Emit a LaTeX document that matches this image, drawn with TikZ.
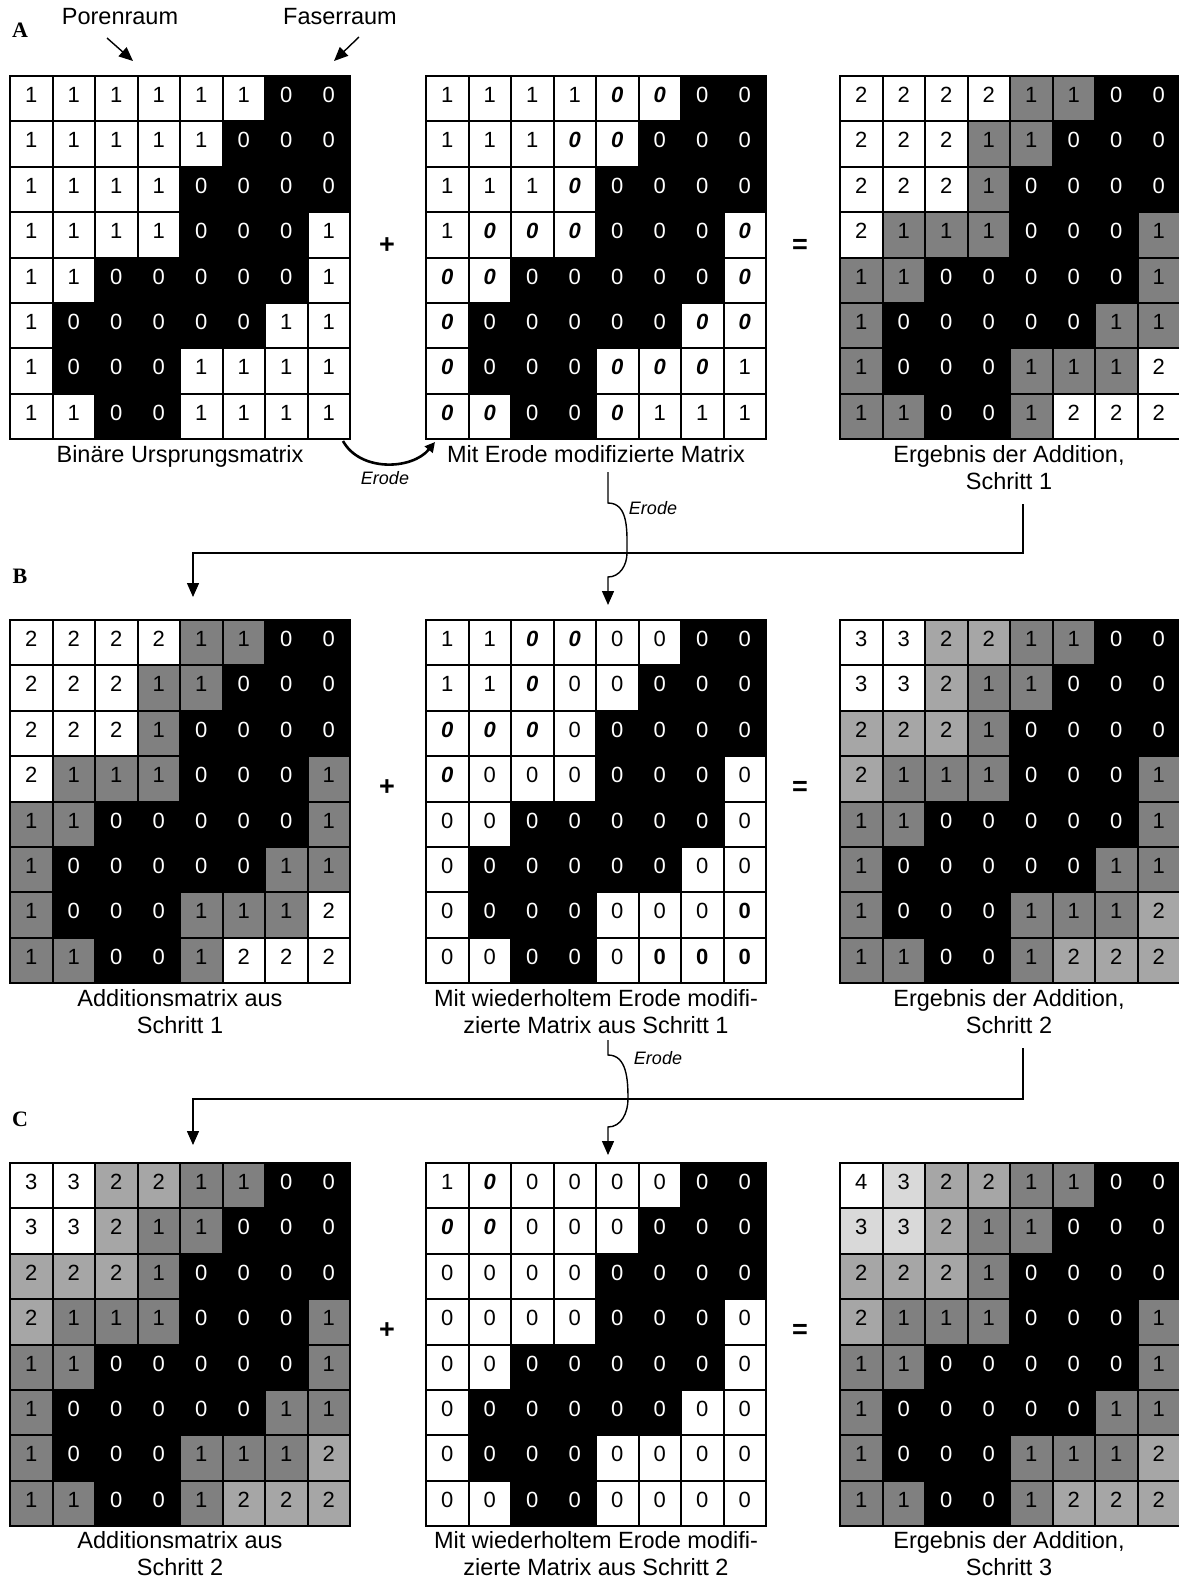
\documentclass[tikz,border=0pt]{standalone}
\usepackage{fontspec}
\setmainfont{Liberation Sans}
\newfontfamily\serifbold{Liberation Serif}
\usetikzlibrary{arrows.meta}
\definecolor{cW}{RGB}{255,255,255}
\definecolor{cK}{RGB}{0,0,0}
\definecolor{cA}{RGB}{128,128,128}
\definecolor{cB}{RGB}{166,166,166}
\definecolor{cC}{RGB}{217,217,217}
\colorlet{tW}{black}
\colorlet{tK}{white}
\colorlet{tA}{black}
\colorlet{tB}{black}
\colorlet{tC}{black}
\def\cellparse#1#2#3\relax{\def\cellfill{c#1}\def\celltext{t#1}\def\cellval{#2}\def\cellsty{#3}}
\def\styn{}
\def\styi{\bfseries\itshape}
\def\styb{\bfseries}
\tikzset{
  digit/.style={font=\fontsize{22}{24}\selectfont, inner sep=0pt},
  lbl/.style={font=\fontsize{23.5}{26}\selectfont, inner sep=0pt, anchor=base},
  erodelbl/.style={font=\fontsize{18}{20}\selectfont\itshape, inner sep=0pt},
  oplbl/.style={font=\fontsize{27}{29}\selectfont\bfseries, inner sep=0pt},
  panellbl/.style={font=\fontsize{22}{24}\selectfont\serifbold\bfseries, inner sep=0pt, anchor=base},
  conn/.style={line width=1.4pt},
  arrtip/.style={-{Triangle[length=14pt,width=12pt]}},
}
\newcommand\DrawMatrix[4]{%
  \foreach \row [count=\i] in #4 {
    \foreach \c [count=\j] in \row {
      \expandafter\cellparse\c\relax
      \path[fill=\cellfill, draw=black, line width=2pt] ({#2+(\j-1)*42.5},{#3+(\i-1)*45.375}) rectangle +(42.5,45.375);
      \node[digit, text=\celltext, anchor=base] (#1-\i-\j) at ({#2+(\j-0.5)*42.5},{#3+(\i-1)*45.375+26.5}) {\csname sty\cellsty\endcsname\cellval};
    }
  }
  \draw[line width=2.4pt] (#2,#3) rectangle +(340,363);
}
\def\matAone{%
{W1n,W1n,W1n,W1n,W1n,W1n,K0n,K0n},%
{W1n,W1n,W1n,W1n,W1n,K0n,K0n,K0n},%
{W1n,W1n,W1n,W1n,K0n,K0n,K0n,K0n},%
{W1n,W1n,W1n,W1n,K0n,K0n,K0n,W1n},%
{W1n,W1n,K0n,K0n,K0n,K0n,K0n,W1n},%
{W1n,K0n,K0n,K0n,K0n,K0n,W1n,W1n},%
{W1n,K0n,K0n,K0n,W1n,W1n,W1n,W1n},%
{W1n,W1n,K0n,K0n,W1n,W1n,W1n,W1n}}
\def\matAtwo{%
{W1n,W1n,W1n,W1n,W0i,W0i,K0n,K0n},%
{W1n,W1n,W1n,W0i,W0i,K0n,K0n,K0n},%
{W1n,W1n,W1n,W0i,K0n,K0n,K0n,K0n},%
{W1n,W0i,W0i,W0i,K0n,K0n,K0n,W0i},%
{W0i,W0i,K0n,K0n,K0n,K0n,K0n,W0i},%
{W0i,K0n,K0n,K0n,K0n,K0n,W0i,W0i},%
{W0i,K0n,K0n,K0n,W0i,W0i,W0i,W1n},%
{W0i,W0i,K0n,K0n,W0i,W1n,W1n,W1n}}
\def\matAthree{%
{W2n,W2n,W2n,W2n,A1n,A1n,K0n,K0n},%
{W2n,W2n,W2n,A1n,A1n,K0n,K0n,K0n},%
{W2n,W2n,W2n,A1n,K0n,K0n,K0n,K0n},%
{W2n,A1n,A1n,A1n,K0n,K0n,K0n,A1n},%
{A1n,A1n,K0n,K0n,K0n,K0n,K0n,A1n},%
{A1n,K0n,K0n,K0n,K0n,K0n,A1n,A1n},%
{A1n,K0n,K0n,K0n,A1n,A1n,A1n,W2n},%
{A1n,A1n,K0n,K0n,A1n,W2n,W2n,W2n}}
\def\matBtwo{%
{W1n,W1n,W0i,W0i,W0n,W0n,K0n,K0n},%
{W1n,W1n,W0i,W0n,W0n,K0n,K0n,K0n},%
{W0i,W0i,W0i,W0n,K0n,K0n,K0n,K0n},%
{W0i,W0n,W0n,W0n,K0n,K0n,K0n,W0n},%
{W0n,W0n,K0n,K0n,K0n,K0n,K0n,W0n},%
{W0n,K0n,K0n,K0n,K0n,K0n,W0n,W0n},%
{W0n,K0n,K0n,K0n,W0n,W0n,W0n,W0b},%
{W0n,W0n,K0n,K0n,W0n,W0b,W0b,W0b}}
\def\matBthree{%
{W3n,W3n,B2n,B2n,A1n,A1n,K0n,K0n},%
{W3n,W3n,B2n,A1n,A1n,K0n,K0n,K0n},%
{B2n,B2n,B2n,A1n,K0n,K0n,K0n,K0n},%
{B2n,A1n,A1n,A1n,K0n,K0n,K0n,A1n},%
{A1n,A1n,K0n,K0n,K0n,K0n,K0n,A1n},%
{A1n,K0n,K0n,K0n,K0n,K0n,A1n,A1n},%
{A1n,K0n,K0n,K0n,A1n,A1n,A1n,B2n},%
{A1n,A1n,K0n,K0n,A1n,B2n,B2n,B2n}}
\def\matCtwo{%
{W1n,W0i,W0n,W0n,W0n,W0n,K0n,K0n},%
{W0i,W0i,W0n,W0n,W0n,K0n,K0n,K0n},%
{W0n,W0n,W0n,W0n,K0n,K0n,K0n,K0n},%
{W0n,W0n,W0n,W0n,K0n,K0n,K0n,W0n},%
{W0n,W0n,K0n,K0n,K0n,K0n,K0n,W0n},%
{W0n,K0n,K0n,K0n,K0n,K0n,W0n,W0n},%
{W0n,K0n,K0n,K0n,W0n,W0n,W0n,W0n},%
{W0n,W0n,K0n,K0n,W0n,W0n,W0n,W0n}}
\def\matCthree{%
{W4n,C3n,B2n,B2n,A1n,A1n,K0n,K0n},%
{C3n,C3n,B2n,A1n,A1n,K0n,K0n,K0n},%
{B2n,B2n,B2n,A1n,K0n,K0n,K0n,K0n},%
{B2n,A1n,A1n,A1n,K0n,K0n,K0n,A1n},%
{A1n,A1n,K0n,K0n,K0n,K0n,K0n,A1n},%
{A1n,K0n,K0n,K0n,K0n,K0n,A1n,A1n},%
{A1n,K0n,K0n,K0n,A1n,A1n,A1n,B2n},%
{A1n,A1n,K0n,K0n,A1n,B2n,B2n,B2n}}
\begin{document}
\begin{tikzpicture}[x=1pt,y=-1pt]
\useasboundingbox[fill=white] (0,0) rectangle (1178,1579);
% matrices
\DrawMatrix{A1}{10}{76}{\matAone}
\DrawMatrix{A2}{426}{76}{\matAtwo}
\DrawMatrix{A3}{840}{76}{\matAthree}
\DrawMatrix{B1}{10}{620}{\matAthree}
\DrawMatrix{B2}{426}{620}{\matBtwo}
\DrawMatrix{B3}{840}{620}{\matBthree}
\DrawMatrix{C1}{10}{1163}{\matBthree}
\DrawMatrix{C2}{426}{1163}{\matCtwo}
\DrawMatrix{C3}{840}{1163}{\matCthree}
% panel letters
\node[panellbl] (pA) at (20,38) {A};
\node[panellbl] (pB) at (20,583) {B};
\node[panellbl] (pC) at (20,1126) {C};
% top labels
\node[lbl] (poren) at (120,25) {Porenraum};
\node[lbl] (faser) at (340,25) {Faserraum};
\coordinate (porS) at (107,38);
\coordinate (porT) at (133,61);
\coordinate (fasS) at (359,37);
\coordinate (fasT) at (334,61);
\draw[conn, arrtip] (porS) -- (porT);
\draw[conn, arrtip] (fasS) -- (fasT);
% operators
\node[oplbl] (plusA) at (387,246) {+};
\node[oplbl] (eqA) at (800,246) {=};
\node[oplbl] (plusB) at (387,788) {+};
\node[oplbl] (eqB) at (800,788) {=};
\node[oplbl] (plusC) at (387,1331) {+};
\node[oplbl] (eqC) at (800,1331) {=};
% captions row A
\node[lbl] (capA1) at (180,462) {Binäre Ursprungsmatrix};
\node[lbl] (capA2) at (596,462) {Mit Erode modifizierte Matrix};
\node[lbl] (capA3a) at (1009,462) {Ergebnis der Addition,};
\node[lbl] (capA3b) at (1009,489) {Schritt 1};
% captions row B
\node[lbl] (capB1a) at (180,1006) {Additionsmatrix aus};
\node[lbl] (capB1b) at (180,1033) {Schritt 1};
\node[lbl] (capB2a) at (596,1006) {Mit wiederholtem Erode modifi-};
\node[lbl] (capB2b) at (596,1033) {zierte Matrix aus Schritt 1};
\node[lbl] (capB3a) at (1009,1006) {Ergebnis der Addition,};
\node[lbl] (capB3b) at (1009,1033) {Schritt 2};
% captions row C
\node[lbl] (capC1a) at (180,1548) {Additionsmatrix aus};
\node[lbl] (capC1b) at (180,1575) {Schritt 2};
\node[lbl] (capC2a) at (596,1548) {Mit wiederholtem Erode modifi-};
\node[lbl] (capC2b) at (596,1575) {zierte Matrix aus Schritt 2};
\node[lbl] (capC3a) at (1009,1548) {Ergebnis der Addition,};
\node[lbl] (capC3b) at (1009,1575) {Schritt 3};
% curved Erode arrow A1 -> A2
\coordinate (e1s) at (343,441);
\coordinate (e1t) at (435,442);
\draw[line width=2.6pt, -{Triangle[length=10pt,width=10pt]}] (e1s) .. controls (360,472) and (412,470) .. (e1t);
\node[erodelbl] (er1) at (385,478) {Erode};
% step A -> B
\coordinate (vA1) at (608,472);
\coordinate (vA2) at (608,503);
\coordinate (vA3) at (627,553);
\coordinate (vA4) at (608,577);
\coordinate (vA5) at (608,605);
\coordinate (hA1) at (1023,504);
\coordinate (hA2) at (1023,553);
\coordinate (hA3) at (193,553);
\coordinate (hA4) at (193,597);
\draw[conn, arrtip] (hA1) -- (hA2) -- (hA3) -- (hA4);
\draw[conn, arrtip] (vA1) -- (vA2) to[out=0,in=90] (vA3) to[out=-90,in=0] (vA4) -- (vA5);
\node[erodelbl] (er2) at (653,508) {Erode};
% step B -> C
\coordinate (vB1) at (608,1040);
\coordinate (vB2) at (608,1055);
\coordinate (vB3) at (628,1099);
\coordinate (vB4) at (608,1127);
\coordinate (vB5) at (608,1155);
\coordinate (hB1) at (1023,1048);
\coordinate (hB2) at (1023,1099);
\coordinate (hB3) at (193,1099);
\coordinate (hB4) at (193,1145);
\draw[conn, arrtip] (hB1) -- (hB2) -- (hB3) -- (hB4);
\draw[conn, arrtip] (vB1) -- (vB2) to[out=0,in=90] (vB3) to[out=-90,in=0] (vB4) -- (vB5);
\node[erodelbl] (er3) at (658,1058) {Erode};
\end{tikzpicture}
\end{document}
